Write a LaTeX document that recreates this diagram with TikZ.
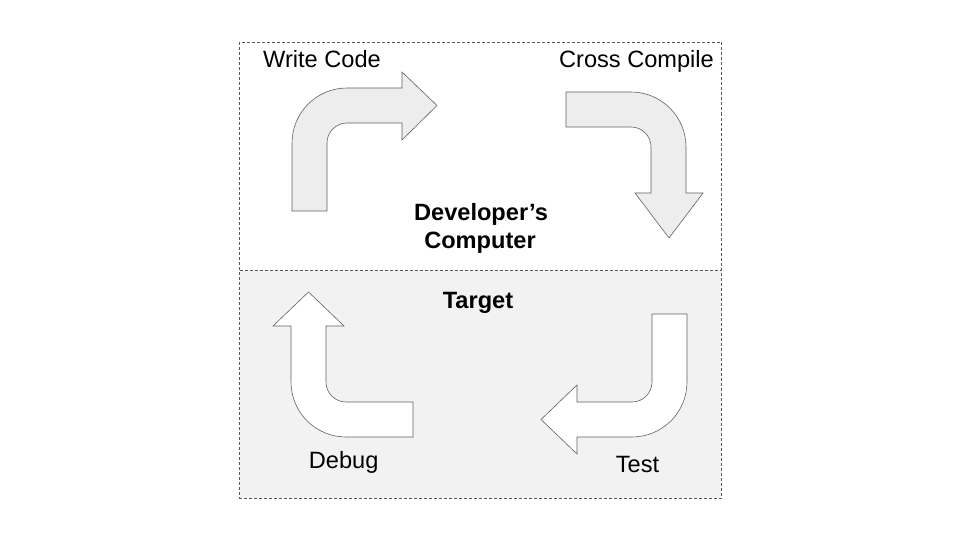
\documentclass[tikz,border=0pt]{standalone}
\usepackage{fontspec}
\setmainfont{Liberation Sans}
\begin{document}
\begin{tikzpicture}[x=1pt,y=-1pt,
  bentarrow/.style={draw=black!62,line width=0.6pt,line join=miter},
  toparrow/.style={bentarrow,fill=black!7},
  botarrow/.style={bentarrow,fill=white},
  lbl/.style={font=\fontsize{23.6}{27}\selectfont,anchor=base,inner sep=0pt},
  blbl/.style={font=\fontsize{23.6}{28}\selectfont\bfseries,anchor=base,inner sep=0pt,align=center},
  region/.style={draw=black!65,dash pattern=on 3pt off 2pt,line width=0.6pt}]
\useasboundingbox (0,0) rectangle (960,540);
% regions
\fill[black!5] (239.5,270) rectangle (721,498);
\draw[region] (239.5,42) rectangle (721,498);
\draw[region] (239.5,270) -- (721,270);
% Write Code arrow
\draw[toparrow] (292,211) -- (292,143) arc[start angle=180,end angle=270,radius=55]
  -- (402,88) -- (402,72) -- (437,105.5) -- (402,140) -- (402,123) -- (347,123)
  arc[start angle=270,end angle=180,radius=20] -- (327,211) -- cycle;
% Cross Compile arrow
\draw[toparrow] (566,92) -- (631,92) arc[start angle=270,end angle=360,radius=55]
  -- (686,193) -- (703,193) -- (669,238) -- (635,193) -- (651,193) -- (651,147)
  arc[start angle=0,end angle=-90,radius=20] -- (566,127) -- cycle;
% Test arrow
\draw[botarrow] (652,314) -- (687,314) -- (687,382) arc[start angle=0,end angle=90,radius=55]
  -- (577,437) -- (577,454) -- (541,419.5) -- (577,385) -- (577,402) -- (632,402)
  arc[start angle=90,end angle=0,radius=20] -- cycle;
% Debug arrow
\draw[botarrow] (413,437) -- (346,437) arc[start angle=90,end angle=180,radius=55]
  -- (291,326) -- (273,326) -- (308.5,292) -- (344,326) -- (326,326) -- (326,382)
  arc[start angle=180,end angle=90,radius=20] -- (413,402) -- cycle;
% labels
\node[lbl] (write) at (322,67.7) {Write Code};
\node[lbl] (cross) at (636.5,67.7) {Cross Compile};
\node[blbl] (dev) at (481,220) {Developer’s};
\node[blbl] (comp) at (480,248.3) {Computer};
\node[blbl] (target) at (478,308.3) {Target};
\node[lbl] (debug) at (343.7,468.3) {Debug};
\node[lbl] (test) at (637.5,472.3) {Test};
\end{tikzpicture}
\end{document}
